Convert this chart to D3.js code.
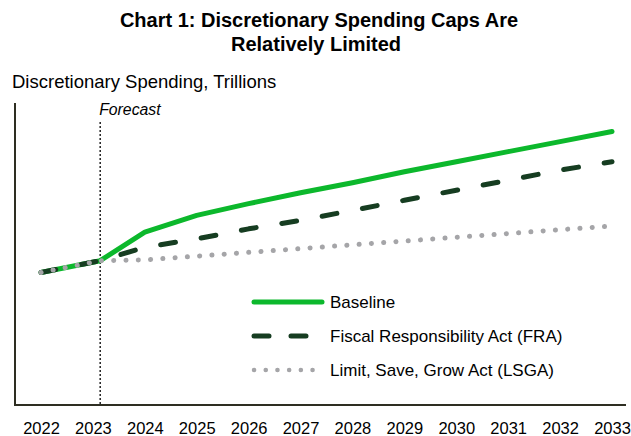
<!DOCTYPE html>
<html>
<head>
<meta charset="utf-8">
<script src="https://cdn.jsdelivr.net/npm/d3@7"></script>
<style>
  body { margin: 0; background: #fff; }
  svg { display: block; font-family: "Liberation Sans", Arial, sans-serif; }
</style>
</head>
<body>
<svg id="chart" width="631" height="436"></svg>
<script>
// tick labels on the x axis
const years = [2022, 2023, 2024, 2025, 2026, 2027, 2028, 2029, 2030, 2031, 2032, 2033];
// x position of each data point (the 2023 point sits just past the 2023 label, at the forecast line)
const dataYears = [2022, 2023.14, 2024, 2025, 2026, 2027, 2028, 2029, 2030, 2031, 2032, 2033];
const forecastYear = 2023.14;

// discretionary spending, trillions
const baseline = [1.59, 1.66, 1.83, 1.93, 2.0, 2.065, 2.125, 2.19, 2.25, 2.31, 2.37, 2.43];
const fra = [1.59, 1.66, 1.74, 1.79, 1.85, 1.9, 1.96, 2.02, 2.08, 2.14, 2.2, 2.25];
const lsga = [1.59, 1.66, 1.665, 1.687, 1.71, 1.732, 1.755, 1.777, 1.8, 1.822, 1.845, 1.867];

const seriesNames = ["Baseline", "Fiscal Responsibility Act (FRA)", "Limit, Save, Grow Act (LSGA)"];

const svg = d3.select("#chart");

const x = d3.scaleLinear().domain([2022, 2033]).range([41, 612]);
const y = d3.scaleLinear().domain([0.8, 2.6]).range([405, 103]);

const styles = [
  { stroke: "#0cb82c", dash: null },
  { stroke: "#163d21", dash: "15,26" },
  { stroke: "#a5a5a8", dash: "0.1,12.2" }
];

// title
svg.append("text")
  .attr("x", 319).attr("y", 27)
  .attr("text-anchor", "middle")
  .style("font-size", "20px").style("font-weight", "bold")
  .text("Chart 1: Discretionary Spending Caps Are");
svg.append("text")
  .attr("x", 316).attr("y", 51)
  .attr("text-anchor", "middle")
  .style("font-size", "20px").style("font-weight", "bold")
  .text("Relatively Limited");

svg.append("text")
  .attr("x", 12).attr("y", 88)
  .style("font-size", "18.5px")
  .text("Discretionary Spending, Trillions");

// axes
svg.append("line")
  .attr("x1", 15).attr("x2", 15)
  .attr("y1", y.range()[1]).attr("y2", y.range()[0])
  .attr("stroke", "#2e2e22").attr("stroke-width", 2);

const xAxis = svg.append("g")
  .attr("transform", `translate(0, ${y.range()[0]})`)
  .call(d3.axisBottom(x).tickValues(years).tickFormat(d3.format("d")).tickSize(0).tickPadding(17));
xAxis.select(".domain").remove();
xAxis.selectAll("text").style("font-size", "16.5px").attr("fill", "#000");
svg.append("line")
  .attr("x1", 14).attr("x2", 626)
  .attr("y1", y.range()[0]).attr("y2", y.range()[0])
  .attr("stroke", "#2e2e22").attr("stroke-width", 2);

// forecast marker
svg.append("line")
  .attr("x1", x(forecastYear)).attr("x2", x(forecastYear))
  .attr("y1", 122).attr("y2", y.range()[0])
  .attr("stroke", "#000").attr("stroke-width", 1.3)
  .attr("stroke-dasharray", "2,2");
svg.append("text")
  .attr("x", x(forecastYear) - 1).attr("y", 115)
  .style("font-size", "15.8px").style("font-style", "italic")
  .text("Forecast");

// lines: baseline underneath, LSGA dots on top
const line = d3.line()
  .x((d, i) => x(dataYears[i]))
  .y((d) => y(d));

[baseline, fra, lsga].forEach((values, k) => {
  const s = styles[k];
  svg.append("path")
    .datum(values)
    .attr("d", line)
    .attr("fill", "none")
    .attr("stroke", s.stroke)
    .attr("stroke-width", 5)
    .attr("stroke-linecap", "round")
    .attr("stroke-linejoin", "round")
    .attr("stroke-dasharray", s.dash);
});

// legend
const legend = svg.append("g").attr("transform", "translate(254, 302)");
seriesNames.forEach((name, i) => {
  const g = legend.append("g").attr("transform", `translate(0, ${i * 34})`);
  g.append("line")
    .attr("x1", 0).attr("x2", 68)
    .attr("stroke", styles[i].stroke)
    .attr("stroke-width", i === 2 ? 4.5 : 5)
    .attr("stroke-linecap", "round")
    .attr("stroke-dasharray", i === 1 ? "15,22" : i === 2 ? "0.1,11.6" : null);
  g.append("text")
    .attr("x", 76).attr("dy", "0.35em")
    .style("font-size", "17px")
    .text(name);
});
</script>
</body>
</html>
